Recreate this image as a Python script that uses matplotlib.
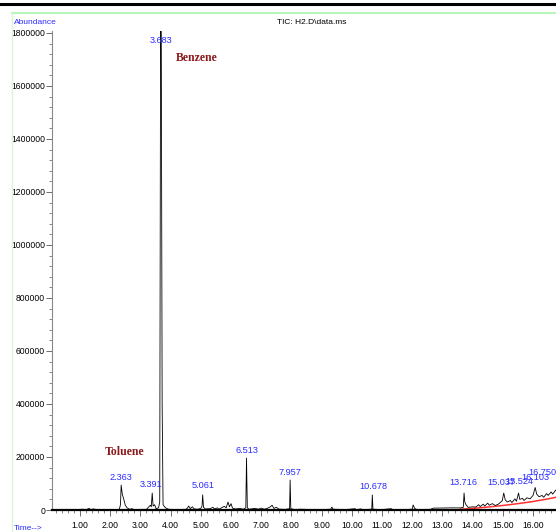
import matplotlib
matplotlib.use("Agg")
import matplotlib.pyplot as plt
from matplotlib.lines import Line2D
from matplotlib.ticker import MultipleLocator, FuncFormatter

# TIC trace: retention time (min) and abundance
times = [0.07, 0.5, 0.9, 1.1, 1.2, 1.3, 1.35, 1.45, 1.55, 2.0, 2.3, 2.34, 2.363, 2.40, 2.45,
         2.50, 2.56, 2.65, 2.72, 2.78, 3.2, 3.28, 3.33, 3.36, 3.391, 3.42, 3.47, 3.52, 3.60,
         3.64, 3.668, 3.69, 3.72, 3.75, 3.80, 3.86, 3.95, 4.2, 4.5, 4.55, 4.6, 4.65, 4.72,
         4.78, 4.9, 5.0, 5.04, 5.061, 5.09, 5.15, 5.3, 5.4, 5.45, 5.55, 5.6, 5.7, 5.78, 5.84,
         5.9, 5.95, 6.0, 6.05, 6.15, 6.3, 6.4, 6.49, 6.513, 6.54, 6.6, 6.8, 6.9, 7.0, 7.1,
         7.2, 7.3, 7.36, 7.42, 7.5, 7.6, 7.8, 7.94, 7.957, 7.98, 8.1, 8.3, 8.6, 9.0, 9.3,
         9.34, 9.38, 9.8, 10.1, 10.15, 10.3, 10.35, 10.66, 10.678, 10.70, 11.0, 11.3, 11.35,
         11.7, 12.0, 12.03, 12.08, 12.15, 12.6, 12.7, 13.0, 13.3, 13.6, 13.69, 13.716, 13.74,
         13.78, 13.85, 14.0, 14.1, 14.2, 14.25, 14.35, 14.4, 14.5, 14.55, 14.65, 14.75,
         14.85, 14.98, 15.03, 15.08, 15.15, 15.25, 15.3, 15.4, 15.45, 15.52, 15.56, 15.65,
         15.7, 15.8, 15.9, 16.0, 16.07, 16.12, 16.2, 16.3, 16.35, 16.45, 16.5, 16.6, 16.65,
         16.75, 16.8]
abundance = [1000, 1500, 1500, 3000, 1500, 6000, 2000, 4000, 1500, 1500, 2000, 20000, 94000,
             60000, 40000, 18000, 8000, 2500, 5000, 2000, 2500, 12000, 18000, 12000, 64000,
             15000, 20000, 5000, 8000, 30000, 1830000, 1830000, 400000, 20000, 12000, 6000,
             2500, 2000, 2500, 6000, 15000, 5000, 12000, 4000, 3000, 6000, 15000, 57000, 10000,
             4000, 5000, 10000, 4000, 8000, 3000, 9000, 14000, 8000, 30000, 12000, 24000, 7000,
             4000, 6000, 3000, 8000, 196000, 8000, 3000, 6000, 3000, 7000, 3000, 6000, 12000,
             18000, 6000, 10000, 3000, 2500, 5000, 113000, 5000, 2000, 3000, 2000, 1500, 3000,
             11000, 3000, 1500, 5000, 1500, 4000, 1500, 3000, 57000, 3000, 1500, 5000, 2000,
             1500, 3000, 19000, 6000, 2000, 2500, 7000, 7500, 8000, 8000, 10000, 64000, 30000,
             20000, 10000, 12000, 11000, 20000, 13000, 22000, 15000, 26000, 18000, 24000, 17000,
             22000, 35000, 64000, 38000, 30000, 36000, 28000, 42000, 33000, 64000, 40000, 44000,
             36000, 46000, 42000, 55000, 85000, 60000, 50000, 55000, 48000, 62000, 55000, 68000,
             60000, 75000, 70000]

# peak labels as printed by the integrator
peak_labels = ['3.683', '2.363', '3.391', '5.061', '6.513', '7.957', '10.678', '13.716',
               '15.037', '15.524', '16.103', '16.750']
label_t = [3.68, 2.36, 3.35, 5.07, 6.52, 7.96, 10.70, 13.68, 14.94, 15.54, 16.07, 16.30]
label_y = [1770000, 121000, 98000, 94000, 226000, 143000, 87000, 102000, 102000, 106000,
           121000, 140000]

# red integration baselines
seg_t = [[2.26, 2.59], [3.26, 3.48], [3.59, 3.87], [4.75, 5.14], [6.40, 6.69], [7.62, 8.05],
         [10.53, 10.83], [13.6, 14.0, 14.5, 15.0, 15.5, 16.0, 16.5, 16.76]]
seg_y = [[1500, 1500], [1500, 1500], [1500, 1500], [1500, 1500], [1500, 1500], [1500, 1500],
         [1500, 1500], [3000, 6000, 11000, 17000, 24000, 32000, 42000, 48000]]

sans = ['Liberation Sans', 'DejaVu Sans']
serif = ['Liberation Serif', 'DejaVu Serif']
blue = '#2b2bff'
plt.rcParams['font.family'] = sans

fig = plt.figure(figsize=(5.56, 5.32), dpi=100)
ax = fig.add_axes([52 / 556, 22 / 532, 1 - 52 / 556, 479 / 532])

ax.plot(times, abundance, color='black', lw=0.6, zorder=3)
for st, sy in zip(seg_t, seg_y):
    ax.plot(st, sy, color='#ff3030', lw=1.1, zorder=2)

for lab, tx, ty in zip(peak_labels, label_t, label_y):
    ax.text(tx, ty, lab, color=blue, fontsize=6.6, ha='center', va='center', zorder=4)

ax.text(4.18, 1705000, 'Benzene', color='#8b1a1a', fontsize=8.5, fontweight='bold',
        family=serif, ha='left', va='center')
ax.text(1.83, 219000, 'Toluene', color='#8b1a1a', fontsize=8.5, fontweight='bold',
        family=serif, ha='left', va='center')

ax.set_xlim(0.073, 16.76)
ax.set_ylim(0, 1807500)
ax.xaxis.set_major_locator(MultipleLocator(1))
ax.xaxis.set_minor_locator(MultipleLocator(0.2))
ax.yaxis.set_major_locator(MultipleLocator(200000))
ax.yaxis.set_minor_locator(MultipleLocator(40000))
ax.yaxis.set_major_formatter(FuncFormatter(lambda v, p: '%d' % v))
ax.set_xticks(range(1, 17))
ax.set_xticklabels(['%.2f' % v for v in range(1, 17)])
ax.tick_params(axis='both', which='major', labelsize=6.2, length=4, width=0.6,
               color='#555555', pad=1)
ax.tick_params(axis='both', which='minor', length=2.5, width=0.5, color='#555555')
ax.tick_params(axis='x', pad=4)

for s in ['top', 'right']:
    ax.spines[s].set_visible(False)
ax.spines['left'].set_color('#8a8a8a')
ax.spines['left'].set_linewidth(0.8)
ax.spines['bottom'].set_color('black')
ax.spines['bottom'].set_linewidth(1.6)
ax.patch.set_alpha(0)

fig.text(14 / 556, 1 - 22 / 532, 'Abundance', color=blue, fontsize=6, ha='left', va='center')
fig.text(14 / 556, 1 - 528 / 532, 'Time-->', color=blue, fontsize=6, ha='left', va='center')
fig.text(277 / 556, 1 - 23 / 532, 'TIC: H2.D\\data.ms', color='black', fontsize=6,
         ha='left', va='center')

# frame lines around the instrument window
fig.add_artist(Line2D([0, 1], [1 - 4 / 532, 1 - 4 / 532], color='black', lw=2.2))
fig.add_artist(Line2D([12 / 556, 1], [1 - 13 / 532, 1 - 13 / 532], color='#b8f5b8', lw=1.5))
fig.add_artist(Line2D([12 / 556, 12 / 556], [0, 1 - 13 / 532], color='#d6f8d6', lw=1.0))

fig.savefig('out.png', dpi=100)
